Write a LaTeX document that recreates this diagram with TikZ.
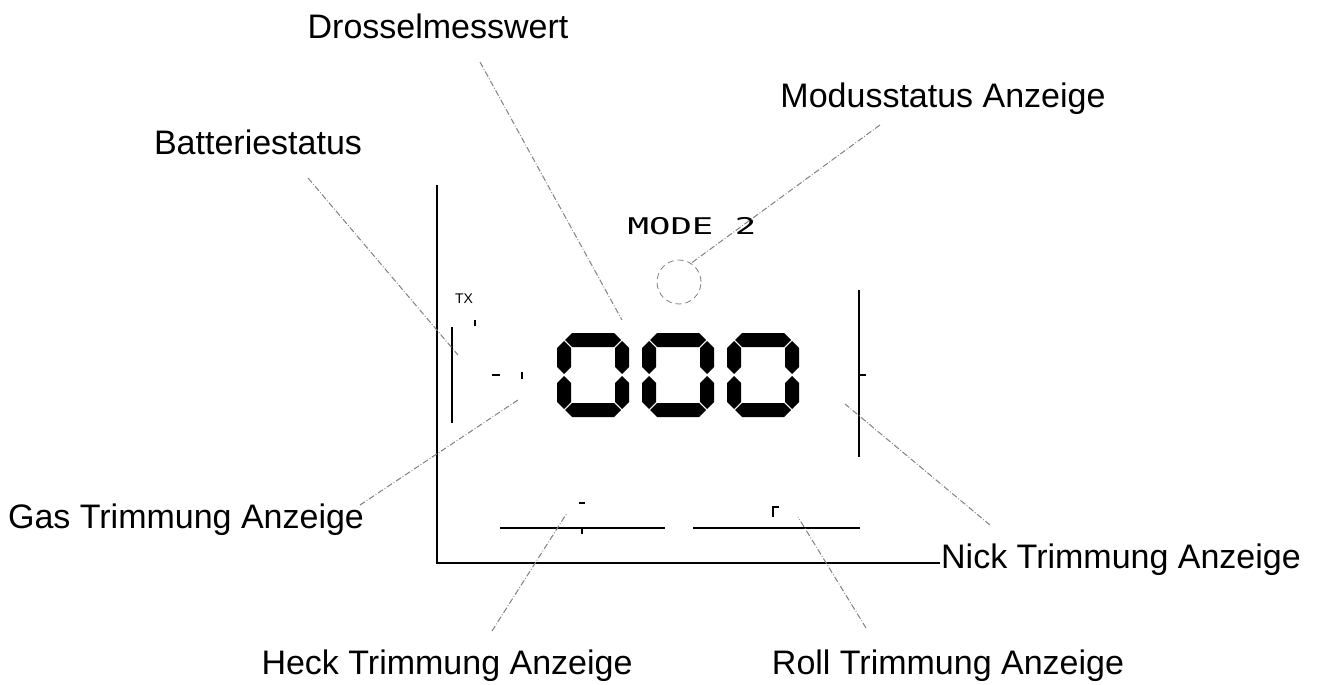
\documentclass[tikz,border=0pt]{standalone}
\usepackage{fontspec}
\usepackage{graphicx}
\setmainfont{Liberation Sans}
\newfontfamily\lcdfont{DejaVu Sans Mono}
\begin{document}
\begin{tikzpicture}[x=0.5pt,y=-0.5pt,
  lbl/.style={inner sep=0pt, anchor=base, font=\fontsize{17}{20}\selectfont},
  lead/.style={gray, densely dashdotted, line width=0.5pt},
  bar/.style={line width=1pt},
  seg/.style={fill=black}]
  \useasboundingbox (0,0) rectangle (1319,685);
  % display frame
  \draw[bar] (437,185) -- (437,563) -- (940,563);
  % trim bars
  \draw[bar] (452,327) -- (452,423);
  \draw[bar] (859,290) -- (859,457);
  \draw[bar] (859,375) -- (866,375);
  \draw[bar] (500,528) -- (665,528);
  \draw[bar] (582,528) -- (582,534);
  \draw[bar] (579,503) -- (585,503);
  \draw[bar] (693,528) -- (860,528);
  \draw[bar] (773,517) -- (773,507) -- (779,507);
  % small marks
  \node[inner sep=0pt, font=\fontsize{7}{8}\selectfont] (tx) at (464,299) {TX};
  \draw[bar] (475,320) -- (475,326);
  \draw[bar] (492,375) -- (500,375);
  \draw[bar] (522,372) -- (522,379);
  % mode
  \node[inner sep=0pt, font=\lcdfont\fontsize{11.5}{13}\selectfont] (mode) at (692,226)
    {\scalebox{1.55}[1]{MODE 2}};
  \node[draw=gray, densely dashed, circle, minimum size=22pt, inner sep=0pt] (ring) at (679,282) {};
  % digits 000
  \foreach \dx in {557,642,727}{
    \begin{scope}[shift={(\dx,333)}]
      \fill[seg] (8,7) -- (15,0) -- (57,0) -- (64,7) -- (57,14) -- (15,14) -- cycle;
      \fill[seg] (8,77) -- (15,70) -- (57,70) -- (64,77) -- (57,84) -- (15,84) -- cycle;
      \fill[seg] (7,8) -- (14,15) -- (14,34) -- (7,41) -- (0,34) -- (0,15) -- cycle;
      \fill[seg] (7,43) -- (14,50) -- (14,69) -- (7,76) -- (0,69) -- (0,50) -- cycle;
      \fill[seg] (65,8) -- (72,15) -- (72,34) -- (65,41) -- (58,34) -- (58,15) -- cycle;
      \fill[seg] (65,43) -- (72,50) -- (72,69) -- (65,76) -- (58,69) -- (58,50) -- cycle;
    \end{scope}
  }
  % labels
  \node[lbl] (drossel) at (438,39) {Drosselmesswert};
  \node[lbl] (modus) at (943,107) {Modusstatus Anzeige};
  \node[lbl] (batt) at (258,154) {Batteriestatus};
  \node[lbl] (gas) at (186,528) {Gas Trimmung Anzeige};
  \node[lbl] (nick) at (1121,568) {Nick Trimmung Anzeige};
  \node[lbl] (heck) at (447,674) {Heck Trimmung Anzeige};
  \node[lbl] (roll) at (948,674) {Roll Trimmung Anzeige};
  % leader ends
  \coordinate (drossel-a) at (480,62);
  \coordinate (drossel-b) at (622,320);
  \coordinate (modus-a) at (880,125);
  \coordinate (modus-b) at (690,264);
  \coordinate (batt-a) at (308,178);
  \coordinate (batt-b) at (458,355);
  \coordinate (gas-a) at (360,505);
  \coordinate (gas-b) at (518,400);
  \coordinate (nick-a) at (990,525);
  \coordinate (nick-b) at (845,404);
  \coordinate (heck-a) at (492,631);
  \coordinate (heck-b) at (567,513);
  \coordinate (roll-a) at (866,628);
  \coordinate (roll-b) at (798,517);
  % leaders
  \draw[lead] (drossel-a) -- (drossel-b);
  \draw[lead] (modus-a) -- (modus-b);
  \draw[lead] (batt-a) -- (batt-b);
  \draw[lead] (gas-a) -- (gas-b);
  \draw[lead] (nick-a) -- (nick-b);
  \draw[lead] (heck-a) -- (heck-b);
  \draw[lead] (roll-a) -- (roll-b);
\end{tikzpicture}
\end{document}
